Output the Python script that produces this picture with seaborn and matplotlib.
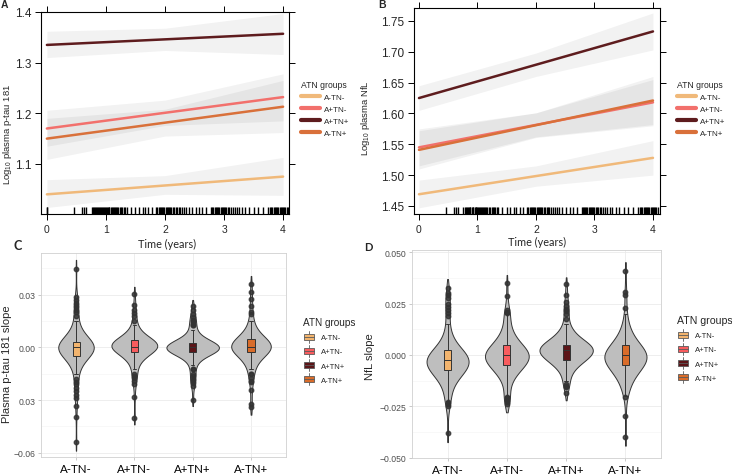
import numpy as np
import pandas as pd
import matplotlib
matplotlib.use("Agg")
import matplotlib.pyplot as plt
import seaborn as sns
from matplotlib.legend_handler import HandlerBase
from matplotlib.patches import Rectangle, Patch
from matplotlib.lines import Line2D
from matplotlib.ticker import FixedLocator

# ---------------- data ----------------
groups = ["A-TN-", "A+TN-", "A+TN+", "A-TN+"]
line_colors = ["#F0B97A", "#F2706C", "#5E1C1E", "#D9703A"]
box_colors = ["#F2B46E", "#F85C5E", "#5C1518", "#D96C2A"]

fit_times = [0, 4]
ptau_fit = {"A-TN-": [1.040, 1.075], "A+TN-": [1.170, 1.232],
            "A+TN+": [1.335, 1.357], "A-TN+": [1.150, 1.213]}
nfl_fit = {"A-TN-": [1.469, 1.528], "A+TN-": [1.545, 1.618],
           "A+TN+": [1.625, 1.733], "A-TN+": [1.541, 1.621]}

band_times = [0, 2, 4]
ptau_lower = {"A-TN-": [1.014, 1.040, 1.038], "A+TN-": [1.135, 1.176, 1.185],
              "A+TN+": [1.310, 1.324, 1.316], "A-TN+": [1.109, 1.155, 1.162]}
ptau_upper = {"A-TN-": [1.069, 1.077, 1.113], "A+TN-": [1.206, 1.226, 1.278],
              "A+TN+": [1.362, 1.368, 1.397], "A-TN+": [1.190, 1.208, 1.265]}
nfl_lower = {"A-TN-": [1.447, 1.482, 1.500], "A+TN-": [1.515, 1.562, 1.582],
             "A+TN+": [1.605, 1.660, 1.703], "A-TN+": [1.510, 1.561, 1.580]}
nfl_upper = {"A-TN-": [1.492, 1.515, 1.556], "A+TN-": [1.575, 1.601, 1.655],
             "A+TN+": [1.645, 1.698, 1.763], "A-TN+": [1.572, 1.601, 1.660]}

rug_times = [0.46, 0.60, 0.63, 0.66,
             0.76, 0.78, 0.80, 0.82, 0.83, 0.85, 0.87, 0.88, 0.90, 0.92, 0.93, 0.95,
             0.97, 0.98, 1.00, 1.01, 1.03, 1.05, 1.06, 1.08, 1.10, 1.12, 1.13, 1.15,
             1.17, 1.19, 1.21, 1.24, 1.26, 1.28, 1.30, 1.33, 1.35,
             1.42, 1.50, 1.56, 1.62, 1.66, 1.72, 1.78,
             1.85, 1.87, 1.89, 1.91, 1.93, 1.95, 1.97, 1.99, 2.01, 2.03, 2.05, 2.07,
             2.09, 2.11, 2.13, 2.16, 2.18, 2.20, 2.23, 2.26, 2.29, 2.32, 2.36, 2.40, 2.45,
             2.52, 2.58, 2.63, 2.70,
             2.78, 2.80, 2.82, 2.84, 2.86, 2.88, 2.90, 2.92, 2.94, 2.96, 2.98, 3.00,
             3.02, 3.04, 3.06, 3.09, 3.12, 3.15, 3.18, 3.22, 3.26, 3.30,
             3.36, 3.42, 3.50, 3.58, 3.66, 3.74,
             3.78, 3.80, 3.82, 3.84, 3.86, 3.88, 3.90, 3.92, 3.94, 3.96, 3.98, 4.00,
             4.02, 4.04, 4.06, 4.08]
rug_extra_A = [0.0, 0.005]

# slope distributions: values on a grid with counts + individual extreme values
c_levels = [-0.015, -0.0125, -0.01, -0.0075, -0.005, -0.0025, 0.0,
            0.0025, 0.005, 0.0075, 0.01, 0.0125, 0.015]
c_counts = {"A-TN-": [2, 2, 3, 5, 8, 16, 22, 16, 8, 4, 3, 2, 2],
            "A+TN-": [1, 2, 2, 4, 6, 12, 20, 20, 10, 4, 3, 2, 1],
            "A+TN+": [1, 2, 2, 3, 6, 18, 26, 16, 6, 3, 2, 1, 1],
            "A-TN+": [2, 2, 3, 4, 7, 13, 18, 16, 9, 5, 3, 2, 2]}
c_extremes = {"A-TN-": [0.0447, 0.0285, 0.027, 0.0255, 0.024, 0.023, 0.0215, 0.020, 0.018,
                        -0.018, -0.0195, -0.021, -0.023, -0.025, -0.027, -0.029, -0.0332,
                        -0.0394, -0.0537],
              "A+TN-": [0.0306, 0.024, 0.021, 0.0195, 0.018,
                        -0.0165, -0.0175, -0.019, -0.021, -0.0283, -0.040],
              "A+TN+": [0.0236, 0.021, 0.019, 0.017, 0.0155, 0.014, 0.013,
                        -0.0165, -0.018, -0.019, -0.0205, -0.022, -0.030],
              "A-TN+": [0.0363, 0.0317, 0.0273, 0.0235, 0.0203, 0.019,
                        -0.0173, -0.019, -0.020, -0.0245, -0.0325, -0.034]}

d_levels = [-0.02, -0.0175, -0.015, -0.0125, -0.01, -0.0075, -0.005, -0.0025, 0.0,
            0.0025, 0.005, 0.0075, 0.01, 0.0125, 0.015, 0.0175, 0.02]
d_counts = {"A-TN-": [2, 2, 3, 5, 8, 12, 15, 17, 14, 9, 5, 3, 2, 2, 1, 0, 0],
            "A+TN-": [1, 1, 2, 3, 5, 8, 12, 15, 17, 14, 9, 6, 4, 3, 2, 1, 1],
            "A+TN+": [0, 0, 1, 1, 2, 4, 7, 12, 17, 20, 18, 8, 6, 3, 2, 1, 1],
            "A-TN+": [1, 2, 3, 4, 6, 9, 12, 15, 16, 13, 9, 6, 4, 3, 2, 1, 1]}
d_extremes = {"A-TN-": [0.0325, 0.030, 0.029, 0.0275, 0.025, 0.0235, 0.022, 0.0205, 0.019,
                        -0.0225, -0.023, -0.024, -0.025, -0.038],
              "A+TN-": [0.035, 0.0285, 0.022, 0.021, 0.0205, 0.0195,
                        -0.0205, -0.021, -0.022, -0.023, -0.024],
              "A+TN+": [0.0344, 0.0293, 0.0258, 0.024, 0.0225, 0.0214,
                        -0.0126, -0.014, -0.0155, -0.0187],
              "A-TN+": [0.041, 0.0305, 0.029, 0.023, -0.0207, -0.0297, -0.040]}

c_ytick_vals = [-0.06, -0.03, 0.0, 0.03]
c_ytick_labels = ["\u22120.06", "0.03", "0.00", "0.03"]
d_ytick_vals = [-0.05, -0.025, 0.0, 0.025, 0.05]
d_ytick_labels = ["\u22120.050", "\u22120.025", "0.000", "0.025", "0.050"]

# ---------------- style ----------------
sns.set_theme(style="white")
plt.rcParams["font.family"] = ["Liberation Sans", "DejaVu Sans"]
plt.rcParams["mathtext.fontset"] = "custom"
plt.rcParams["mathtext.rm"] = "Liberation Sans"

W, H = 732, 477
fig = plt.figure(figsize=(W / 100, H / 100), dpi=100)


def box(l, t, r, b):
    return [l / W, 1 - b / H, (r - l) / W, (b - t) / H]


axA = fig.add_axes(box(41, 13, 289, 215))
axB = fig.add_axes(box(414, 9, 660, 215))
axC = fig.add_axes(box(41, 254, 286, 458))
axD = fig.add_axes(box(412, 251, 661, 459))


def trend_panel(ax, fits, lower, upper, rug, ylim, xlim, yticks, ytick_fmt, ylabel,
                label_xy):
    for g in groups:
        ax.fill_between(band_times, lower[g], upper[g], color="black", alpha=0.05,
                        lw=0, zorder=1)
    df = pd.DataFrame({"time": np.tile(fit_times, len(groups)),
                       "value": np.concatenate([fits[g] for g in groups]),
                       "group": np.repeat(groups, len(fit_times))})
    sns.lineplot(data=df, x="time", y="value", hue="group", hue_order=groups,
                 palette=line_colors, lw=1.8, ax=ax, legend=False, zorder=3)
    sns.rugplot(x=rug, height=0.035, color="black", lw=0.8, ax=ax,
                expand_margins=False)
    ax.set_xlim(*xlim)
    ax.set_ylim(*ylim)
    ax.set_xticks([0, 1, 2, 3, 4])
    ax.set_yticks(yticks)
    ax.set_yticklabels([ytick_fmt.format(v) for v in yticks])
    for s in ax.spines.values():
        s.set_color("black")
        s.set_linewidth(0.8)
    ax.tick_params(axis="both", which="major", direction="out", length=4.5, width=0.7,
                   color="black", top=True, right=True, bottom=True, left=True,
                   labeltop=False, labelright=False, pad=2.5)
    ax.tick_params(axis="y", labelsize=8.5)
    ax.tick_params(axis="x", labelsize=7.5)
    ax.set_xlabel("")
    ax.set_ylabel(ylabel, fontsize=6.8)
    ax.yaxis.set_label_coords(*label_xy)


trend_panel(axA, ptau_fit, ptau_lower, ptau_upper, rug_extra_A + rug_times,
            (1.0012, 1.4), (-0.1, 4.1), [1.1, 1.2, 1.3, 1.4], "{:.1f}",
            r"Log$_{\mathregular{10}}$ plasma p-tau 181", (-0.108, 0.40))
trend_panel(axB, nfl_fit, nfl_lower, nfl_upper, rug_times,
            (1.437, 1.771), (-0.085, 4.12), [1.45, 1.50, 1.55, 1.60, 1.65, 1.70, 1.75],
            "{:.2f}", r"Log$_{\mathregular{10}}$ plasma NfL", (-0.17, 0.47))

line_handles = [Line2D([], [], color=c, lw=3) for c in line_colors]
for x0 in (301, 677):
    lg = fig.legend(line_handles, groups, title="ATN groups", loc="upper left",
                    bbox_to_anchor=(x0 / W, 1 - 81 / H), frameon=False, fontsize=5.8,
                    title_fontsize=6.2, handlelength=2.4, handletextpad=0.5,
                    labelspacing=0.55, borderpad=0, borderaxespad=0)
    lg._legend_box.align = "left"


class BoxKey(HandlerBase):
    def create_artists(self, legend, orig, xd, yd, w, h, fs, trans):
        x0, y0 = -xd, -yd
        ec = "#5a5a5a"
        cx = x0 + w / 2
        wl1 = Line2D([cx, cx], [y0 - 0.25 * h, y0 + 0.1 * h], color=ec, lw=0.6,
                     transform=trans)
        wl2 = Line2D([cx, cx], [y0 + 0.9 * h, y0 + 1.25 * h], color=ec, lw=0.6,
                     transform=trans)
        r = Rectangle((x0 + 0.05 * w, y0 + 0.1 * h), 0.9 * w, 0.8 * h,
                      facecolor=orig.get_facecolor(), edgecolor=ec, lw=0.6,
                      transform=trans)
        m = Line2D([x0 + 0.05 * w, x0 + 0.95 * w], [y0 + h / 2] * 2, color=ec, lw=0.6,
                   transform=trans)
        return [wl1, wl2, r, m]


def build_df(levels, counts, extremes):
    rows = []
    for g in groups:
        vals = list(np.repeat(levels, counts[g])) + list(extremes[g])
        rows.append(pd.DataFrame({"group": g, "slope": vals}))
    return pd.concat(rows, ignore_index=True)


def violin_panel(ax, df, ylim, ticks, labels, minor, ylabel, label_xy):
    ax.set_axisbelow(True)
    sns.violinplot(data=df, x="group", y="slope", order=groups, color="#BEBEBE",
                   inner=None, cut=1, bw_adjust=1.0, linewidth=0.7,
                   linecolor="#333333", width=0.9, density_norm="area",
                   saturation=1, ax=ax)
    sns.boxplot(data=df, x="group", y="slope", order=groups, hue="group",
                hue_order=groups, palette=box_colors, width=0.12, linewidth=0.7,
                linecolor="#333333", fliersize=3.2, saturation=1, dodge=False,
                flierprops=dict(marker="o", markerfacecolor="#333333",
                                markeredgecolor="#333333", alpha=0.85),
                legend=False, ax=ax)
    ax.set_xlim(-0.6, 3.6)
    ax.set_ylim(*ylim)
    ax.set_yticks(ticks)
    ax.set_yticklabels(labels)
    ax.yaxis.set_minor_locator(FixedLocator(minor))
    ax.grid(True, which="major", color="#EBEBEB", lw=0.6)
    ax.grid(True, which="minor", axis="y", color="#F4F4F4", lw=0.4)
    for s in ax.spines.values():
        s.set_color("#D0D0D0")
        s.set_linewidth(0.6)
    ax.tick_params(axis="both", which="major", length=2, width=0.5, color="#B3B3B3",
                   bottom=True, left=True, pad=2)
    ax.tick_params(axis="y", which="minor", length=0)
    ax.tick_params(axis="y", labelsize=6.2, labelcolor="#4D4D4D")
    ax.tick_params(axis="x", labelsize=8.3, labelcolor="black")
    for t in ax.get_xticklabels():
        t.set_fontfamily(["Lato", "DejaVu Sans"])
    ax.set_xlabel("")
    ax.set_ylabel(ylabel, fontsize=8)
    ax.yaxis.set_label_coords(*label_xy)


dfC = build_df(c_levels, c_counts, c_extremes)
dfD = build_df(d_levels, d_counts, d_extremes)
violin_panel(axC, dfC, (-0.0624, 0.0537), c_ytick_vals, c_ytick_labels,
             [-0.045, -0.015, 0.015, 0.045], "Plasma p-tau 181 slope", (-0.118, 0.46))
violin_panel(axD, dfD, (-0.0502, 0.0511), d_ytick_vals, d_ytick_labels,
             [-0.0375, -0.0125, 0.0125, 0.0375], "NfL slope", (-0.15, 0.49))

box_handles = [Patch(facecolor=c) for c in box_colors]
for x0, y0, tfs in ((303, 318, 7.2), (677, 316, 7.6)):
    lg = fig.legend(box_handles, groups, title="ATN groups", loc="upper left",
                    bbox_to_anchor=(x0 / W, 1 - y0 / H), frameon=False, fontsize=5.5,
                    title_fontsize=tfs, handlelength=1.5, handleheight=1.2,
                    handletextpad=0.9, labelspacing=0.75, borderpad=0, borderaxespad=0,
                    handler_map={Patch: BoxKey()})
    lg._legend_box.align = "left"

# x-axis titles of the top panels and panel letters
fig.text(167 / W, 1 - 244 / H, "Time (years)", ha="center", va="center", fontsize=7.8,
         family=["Lato", "DejaVu Sans"])
fig.text(537 / W, 1 - 242 / H, "Time (years)", ha="center", va="center", fontsize=7.8,
         family=["Lato", "DejaVu Sans"])
fig.text(4 / W, 1 - 5 / H, "A", ha="center", va="center", fontsize=7.5, weight="bold")
fig.text(382 / W, 1 - 5 / H, "B", ha="center", va="center", fontsize=7.5, weight="bold")
fig.text(18 / W, 1 - 246 / H, "C", ha="center", va="center", fontsize=9, weight="bold",
         family=["Lato", "DejaVu Sans"])
fig.text(368 / W, 1 - 248 / H, "D", ha="center", va="center", fontsize=8, weight="bold",
         family=["Lato", "DejaVu Sans"])

fig.savefig("out.png", dpi=100)
